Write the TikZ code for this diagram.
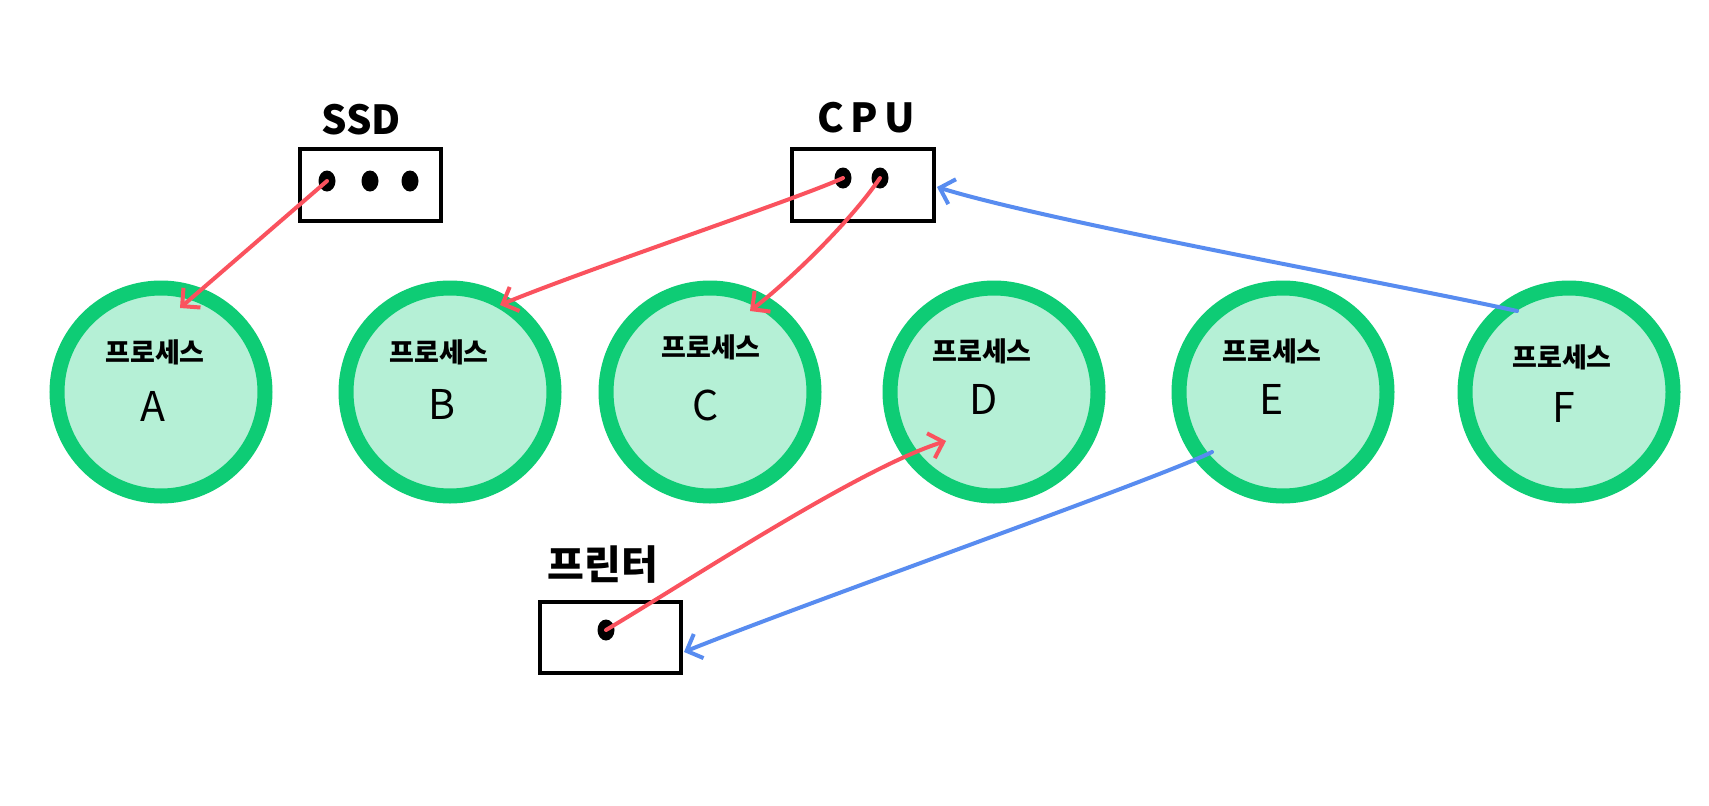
\documentclass[tikz,border=0pt]{standalone}
\usepackage{fontspec}
\setmainfont{Noto Sans CJK KR}
\usetikzlibrary{arrows.meta,shapes.geometric}
\definecolor{ringgreen}{RGB}{14,204,117}
\definecolor{fillgreen}{RGB}{181,240,214}
\definecolor{arrred}{RGB}{250,82,94}
\definecolor{arrblue}{RGB}{88,140,240}
\tikzset{
  proc/.style={circle,draw=ringgreen,fill=fillgreen,line width=15pt,minimum size=208pt,inner sep=0pt},
  ptitle/.style={font=\fontsize{27}{30}\selectfont\bfseries,inner sep=0pt},
  pletter/.style={font=\fontsize{41}{44}\selectfont,inner sep=0pt},
  devbox/.style={draw=black,line width=4.5pt,fill=white,inner sep=0pt},
  devlabel/.style={font=\fontsize{40}{44}\selectfont\bfseries,inner sep=0pt},
  dotn/.style={ellipse,fill=black,minimum width=17pt,minimum height=21pt,inner sep=0pt},
  redarr/.style={draw=arrred,line width=4pt,line cap=round,-{Straight Barb[length=13pt,width=26pt,line width=4pt]}},
  bluearr/.style={draw=arrblue,line width=4pt,line cap=round,-{Straight Barb[length=13pt,width=26pt,line width=4pt]}},
}
\begin{document}
\begin{tikzpicture}[x=1pt,y=-1pt]
\useasboundingbox[fill=white] (0,0) rectangle (1709,806);
% processes
\node[proc] (A) at (161,392) {};
\node[proc] (B) at (450,392) {};
\node[proc] (C) at (710,392) {};
\node[proc] (D) at (994,392) {};
\node[proc] (E) at (1283,392) {};
\node[proc] (F) at (1569,392) {};
\node[ptitle] (tA) at (155,352) {프로세스};
\node[pletter] (lA) at (153,406) {A};
\node[ptitle] (tB) at (439,352) {프로세스};
\node[pletter] (lB) at (442,404) {B};
\node[ptitle] (tC) at (711,347) {프로세스};
\node[pletter] (lC) at (706,405) {C};
\node[ptitle] (tD) at (982,351) {프로세스};
\node[pletter] (lD) at (984,399) {D};
\node[ptitle] (tE) at (1272,351) {프로세스};
\node[pletter] (lE) at (1272,399) {E};
\node[ptitle] (tF) at (1562,357) {프로세스};
\node[pletter] (lF) at (1564,407) {F};
% devices
\node[devbox,minimum width=141pt,minimum height=72pt] (ssd) at (370.5,185) {};
\node[devlabel] (ssdl) at (361,120) {SSD};
\node[devbox,minimum width=142pt,minimum height=72pt] (cpu) at (863,185) {};
\node[devlabel] (cpul) at (866,118) {C\,P\,U};
\node[devbox,minimum width=141pt,minimum height=71pt] (prn) at (610.5,637.5) {};
\node[devlabel] (prnl) at (603,565) {프린터};
% dots
\node[dotn] (s1) at (327,181) {};
\node[dotn] (s2) at (370,181) {};
\node[dotn] (s3) at (410,181) {};
\node[dotn] (c1) at (843,178) {};
\node[dotn] (c2) at (880,178) {};
\node[dotn] (p1) at (606,630) {};
% arrow ends
\coordinate (eA) at (180,308);
\coordinate (eB) at (500,305);
\coordinate (eC) at (750,311);
\coordinate (eD) at (946,441);
\coordinate (sE) at (1212,452);
\coordinate (sF) at (1517,311);
\coordinate (ePrn) at (684,652);
\coordinate (eCpu) at (937,187);
% red arrows
\draw[redarr] (s1.center) -- (eA);
\draw[redarr] (c1.center) .. controls (800,198) and (590,268) .. (eB);
\draw[redarr] (c2.center) .. controls (850,222) and (790,280) .. (eC);
\draw[redarr] (p1.center) .. controls (690,580) and (860,468) .. (eD);
% blue arrows
\draw[bluearr] (sE) .. controls (1160,478) and (800,605) .. (ePrn);
\draw[bluearr] (sF) .. controls (1400,285) and (1050,222) .. (eCpu);
\end{tikzpicture}
\end{document}
